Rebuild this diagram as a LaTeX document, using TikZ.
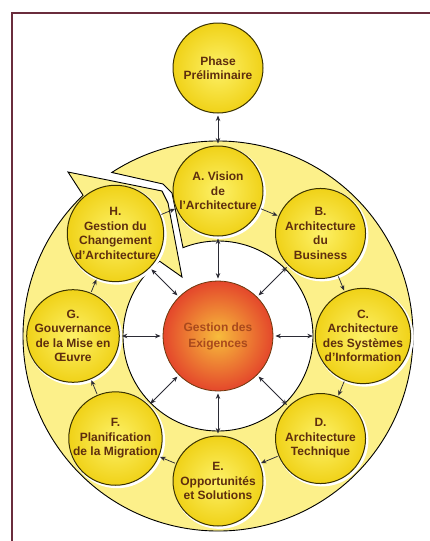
\documentclass[tikz,border=0pt]{standalone}
\usepackage{fontspec}
\setmainfont{Liberation Sans}
\usetikzlibrary{arrows.meta,shadows}

\definecolor{ringfill}{HTML}{FCF08A}
\definecolor{nodein}{HTML}{FDF168}
\definecolor{nodeout}{HTML}{F0D218}
\definecolor{nodeline}{HTML}{3A3200}
\definecolor{nodetext}{HTML}{5E2E0E}
\definecolor{corein}{HTML}{F7BC3C}
\definecolor{coreout}{HTML}{E4472B}
\definecolor{coretext}{HTML}{A9491D}
\definecolor{framecol}{HTML}{6A2C3C}
\definecolor{arrowcol}{HTML}{2B2B35}

\begin{document}
\begin{tikzpicture}[x=1pt,y=1pt,
  phasenode/.style={circle, minimum size=90pt, inner sep=0pt,
    draw=nodeline, line width=1pt, inner color=nodein, outer color=nodeout,
    text=nodetext, font=\fontsize{12}{14.5}\selectfont\bfseries, align=center,
    drop shadow={fill=white, shadow xshift=1.5pt, shadow yshift=-1.5pt,
      shadow scale=1.03, opacity=1}},
  corenode/.style={circle, minimum size=110pt, inner sep=0pt,
    draw=nodeline!70!coreout, line width=0.8pt, inner color=corein, outer color=coreout,
    text=coretext, font=\fontsize{12}{16}\selectfont\bfseries, align=center},
  arr/.style={draw=arrowcol, line width=0.75pt,
    -{Stealth[length=5.5pt,width=4.5pt]}, shorten >=1pt, shorten <=1pt},
  biarr/.style={draw=arrowcol, line width=0.75pt,
    {Stealth[length=5.5pt,width=4.5pt]}-{Stealth[length=5.5pt,width=4.5pt]},
    shorten >=2pt, shorten <=2pt},
  ring/.style={fill=ringfill, draw=black, line width=0.9pt, line join=miter},
  frameline/.style={draw=framecol, line width=1.6pt}]

\clip (0,0) rectangle (430,-541);
\fill[white] (0,0) rectangle (430,-541);

% page frame (only top and left edges show)
\draw[frameline] (12,-560) -- (12,-13) -- (450,-13);

\begin{scope}[shift={(218,-336)}]
  % circular arrow band: tail near A, head next to H
  \draw[ring] (123:195)
    arc[start angle=123, end angle=-226.2, radius=195]
    -- (-150,164) -- (-56,145) -- (-50,133) -- (-36,59)
    -- (128:95)
    arc[start angle=-232, end angle=111.6, radius=95]
    -- (-46,143) -- (-55,152) -- cycle;

  % central requirements management
  \node[corenode] (X) at (0,0) {Gestion des\\Exigences};

  % ADM phases
  \node[phasenode] (A) at (90:145)   {A. Vision\\de\\l'Architecture};
  \node[phasenode] (B) at (45:145)   {B.\\Architecture\\du\\Business};
  \node[phasenode] (C) at (0:145)    {C.\\Architecture\\des Systèmes\\d'Information};
  \node[phasenode] (D) at (-45:145)  {D.\\Architecture\\Technique};
  \node[phasenode] (E) at (-90:145)  {E.\\Opportunités\\et Solutions};
  \node[phasenode] (F) at (-135:145) {F.\\Planification\\de la Migration};
  \node[phasenode] (G) at (180:145)  {G.\\Gouvernance\\de la Mise en\\Œuvre};
  \node[phasenode] (H) at (135:145)  {H.\\Gestion du\\Changement\\d'Architecture};
\end{scope}

\node[phasenode] (P) at (218,-68) {Phase\\Préliminaire};

% preliminary phase link
\draw[biarr] (P) -- (A);

% cycle A -> H -> A
\draw[arr] (A) -- (B);
\draw[arr] (B) -- (C);
\draw[arr] (C) -- (D);
\draw[arr] (D) -- (E);
\draw[arr] (E) -- (F);
\draw[arr] (F) -- (G);
\draw[arr] (G) -- (H);
\draw[arr] (H) -- (A);

% every phase exchanges with requirements management
\foreach \n in {A,B,C,D,E,F,G,H}
  \draw[biarr] (\n) -- (X);

\end{tikzpicture}
\end{document}
